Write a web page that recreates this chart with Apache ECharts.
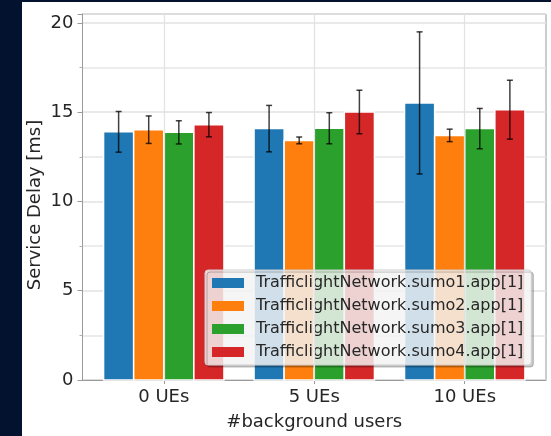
<!DOCTYPE html>
<html>
<head>
<meta charset="utf-8">
<script src="https://cdn.jsdelivr.net/npm/echarts@6/dist/echarts.min.js"></script>
<style>
  html, body { margin: 0; padding: 0; background: #02122f; }
  #frame { position: relative; width: 551px; height: 436px; background: #02122f; overflow: hidden; }
  #chart { position: absolute; left: 22px; top: 2px; width: 529px; height: 434px; background: #ffffff; }
</style>
</head>
<body>
<div id="frame"><div id="chart"></div></div>
<script>
// Categories along the x axis (number of background users)
const categories = ['0 UEs', '5 UEs', '10 UEs'];
const seriesNames = [
  'TrafficlightNetwork.sumo1.app[1]',
  'TrafficlightNetwork.sumo2.app[1]',
  'TrafficlightNetwork.sumo3.app[1]',
  'TrafficlightNetwork.sumo4.app[1]'
];
const seriesColors = ['#1f77b4', '#ff7f0e', '#2ca02c', '#d62728'];

// Mean service delay [ms] and error (half-length of the error bar)
const sumo1Mean = [13.90, 14.08, 15.52];
const sumo1Err  = [1.14, 1.30, 3.98];
const sumo2Mean = [14.02, 13.42, 13.70];
const sumo2Err  = [0.77, 0.19, 0.35];
const sumo3Mean = [13.87, 14.10, 14.08];
const sumo3Err  = [0.65, 0.87, 1.13];
const sumo4Mean = [14.30, 15.01, 15.14];
const sumo4Err  = [0.68, 1.22, 1.65];

const yTicks = [0, 5, 10, 15, 20];

const Y_MAX = 20.5;
const means = [sumo1Mean, sumo2Mean, sumo3Mean, sumo4Mean];
const errs = [sumo1Err, sumo2Err, sumo3Err, sumo4Err];
const catPositions = categories.map((c, i) => i);

const BAR_W = 0.2;
const FONT = 'DejaVu Sans';
const TEXT = '#262626';
const AXIS = '#9a9a9a';
const GRID_LINE = '#e2e2e2';

function makeSeries(idx) {
  const offset = (idx - 1.5) * BAR_W;
  const data = categories.map((c, i) => [i, means[idx][i], errs[idx][i]]);
  const s = {
    type: 'custom',
    name: seriesNames[idx],
    itemStyle: { color: seriesColors[idx] },
    data: data,
    encode: { x: 0, y: 1 },
    renderItem: function (params, api) {
      const x = api.value(0) + offset;
      const m = api.value(1);
      const e = api.value(2);
      const p0 = api.coord([x - BAR_W / 2, m]);
      const p1 = api.coord([x + BAR_W / 2, 0]);
      const top = api.coord([x, m + e]);
      const bot = api.coord([x, m - e]);
      const cap = 3;
      const errStyle = { stroke: 'rgba(0,0,0,0.75)', lineWidth: 1.5 };
      return {
        type: 'group',
        children: [
          {
            type: 'rect',
            shape: { x: p0[0], y: p0[1], width: p1[0] - p0[0], height: p1[1] - p0[1] },
            style: { fill: seriesColors[idx], stroke: '#ffffff', lineWidth: 1.5 }
          },
          { type: 'line', shape: { x1: top[0], y1: top[1], x2: bot[0], y2: bot[1] }, style: errStyle },
          { type: 'line', shape: { x1: top[0] - cap, y1: top[1], x2: top[0] + cap, y2: top[1] }, style: errStyle },
          { type: 'line', shape: { x1: bot[0] - cap, y1: bot[1], x2: bot[0] + cap, y2: bot[1] }, style: errStyle }
        ]
      };
    }
  };
  if (idx === 0) {
    // vertical grid lines at each category position
    s.markLine = {
      silent: true,
      symbol: ['none', 'none'],
      label: { show: false },
      emphasis: { disabled: true },
      lineStyle: { color: GRID_LINE, width: 1.2, type: 'solid' },
      data: catPositions.map(v => [{ coord: [v, 0] }, { coord: [v, Y_MAX] }])
    };
  }
  return s;
}

const chart = echarts.init(document.getElementById('chart'), null, { renderer: 'canvas' });

chart.setOption({
  animation: false,
  backgroundColor: '#ffffff',
  textStyle: { fontFamily: FONT },
  grid: {
    left: 60.5, top: 12, right: 5, bottom: 56,
    containLabel: false,
    outerBoundsMode: 'none',
    show: true, borderColor: AXIS, borderWidth: 1, backgroundColor: 'transparent'
  },
  legend: {
    orient: 'vertical',
    left: 183, top: 268,
    width: 327,
    padding: [5, 8, 5, 7],
    itemWidth: 32, itemHeight: 10, itemGap: 7,
    icon: 'rect',
    data: seriesNames,
    backgroundColor: 'rgba(255,255,255,0.8)',
    borderColor: '#cccccc', borderWidth: 1, borderRadius: 3,
    shadowColor: 'rgba(0,0,0,0.25)', shadowOffsetX: 2, shadowOffsetY: 2, shadowBlur: 0,
    textStyle: { fontFamily: FONT, fontSize: 16, color: TEXT, lineHeight: 16, padding: [0, 0, 0, 7] }
  },
  xAxis: {
    type: 'value',
    min: -0.54, max: 2.54,
    name: '#background users',
    nameLocation: 'middle',
    nameGap: 33,
    nameMoveOverlap: false,
    nameTextStyle: { fontFamily: FONT, fontSize: 18, color: TEXT },
    axisLine: { show: true, onZero: false, lineStyle: { color: AXIS, width: 1 } },
    axisTick: { show: true, customValues: catPositions, length: 4, lineStyle: { color: AXIS } },
    axisLabel: {
      customValues: catPositions,
      formatter: v => categories[Math.round(v)],
      fontFamily: FONT, fontSize: 18, color: TEXT, margin: 8
    },
    splitLine: { show: false }
  },
  yAxis: {
    type: 'value',
    min: 0, max: Y_MAX, interval: 5,
    name: 'Service Delay [ms]',
    nameLocation: 'middle',
    nameGap: 38,
    nameMoveOverlap: false,
    nameTextStyle: { fontFamily: FONT, fontSize: 18, color: TEXT, padding: [0, 16, 0, 0] },
    axisLine: { show: true, onZero: false, lineStyle: { color: AXIS, width: 1 } },
    axisTick: { show: true, length: 5, lineStyle: { color: AXIS } },
    minorTick: { show: true, splitNumber: 2, length: 3, lineStyle: { color: '#b0b0b0' } },
    axisLabel: {
      customValues: yTicks,
      fontFamily: FONT, fontSize: 18, color: TEXT, margin: 9
    },
    splitLine: { show: true, lineStyle: { color: GRID_LINE, width: 1.5 } },
    minorSplitLine: { show: true, lineStyle: { color: '#e6e6e6', width: 1.5 } }
  },
  series: [0, 1, 2, 3].map(makeSeries)
});
</script>
</body>
</html>
